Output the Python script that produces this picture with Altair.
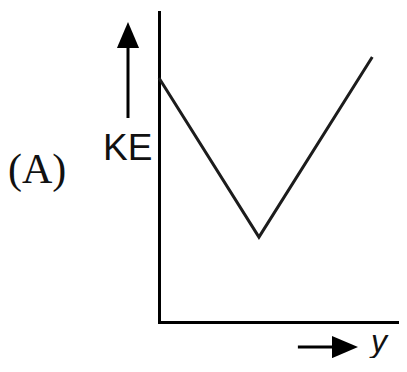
import altair as alt
import pandas as pd

# V-shaped kinetic energy curve (position y, KE), in plot units
pos = [0.0, 4.03, 8.6]
ke = [7.87, 2.74, 8.55]

# arrow shafts
arrow_x = [-1.25, 5.60]
arrow_x2 = [-1.25, 7.30]
arrow_y = [6.58, -0.81]
arrow_y2 = [8.94, -0.81]

# arrow heads
head_x = [-1.25, 7.50]
head_y = [9.26, -0.81]
head_angle = [0, 90]

# labels
serif_text = ["(A)"]
serif_x = [-6.09]
serif_y = [4.48]

sans_text = ["KE"]
sans_x = [-2.26]
sans_y = [5.23]

ital_text = ["y"]
ital_x = [8.55]
ital_y = [-0.97]

X_DOM = [0, 9.677]
Y_DOM = [0, 10]


def xenc(field="x"):
    return alt.X(f"{field}:Q", scale=alt.Scale(domain=X_DOM, nice=False, zero=False), title=None)


def yenc(field="y"):
    return alt.Y(f"{field}:Q", scale=alt.Scale(domain=Y_DOM, nice=False, zero=False), title=None)


curve = alt.Chart(pd.DataFrame({"x": pos, "y": ke})).mark_line(
    color="#1c1c1c", strokeWidth=3, strokeJoin="miter"
).encode(x=xenc(), y=yenc())

shafts = alt.Chart(pd.DataFrame({"x": arrow_x, "x2": arrow_x2, "y": arrow_y, "y2": arrow_y2})).mark_rule(
    color="black", strokeWidth=3
).encode(x=xenc(), x2="x2:Q", y=yenc(), y2="y2:Q")

heads = alt.Chart(pd.DataFrame({"x": head_x, "y": head_y, "a": head_angle})).mark_point(
    shape="M0,-1L0.85,1L-0.85,1Z", filled=True, color="black", opacity=1, size=676
).encode(x=xenc(), y=yenc(), angle=alt.Angle("a:Q", scale=None))

t_serif = alt.Chart(pd.DataFrame({"x": serif_x, "y": serif_y, "t": serif_text})).mark_text(
    font="Liberation Serif", fontSize=42, align="left", baseline="alphabetic", color="#111"
).encode(x=xenc(), y=yenc(), text="t:N")

t_sans = alt.Chart(pd.DataFrame({"x": sans_x, "y": sans_y, "t": sans_text})).mark_text(
    font="Liberation Sans", fontSize=37, align="left", baseline="alphabetic", color="#111"
).encode(x=xenc(), y=yenc(), text="t:N")

t_ital = alt.Chart(pd.DataFrame({"x": ital_x, "y": ital_y, "t": ital_text})).mark_text(
    font="Liberation Sans", fontSize=32, fontStyle="italic", align="left", baseline="alphabetic", color="#111"
).encode(x=xenc(), y=yenc(), text="t:N")

chart = alt.layer(curve, shafts, heads, t_serif, t_sans, t_ital).properties(
    width=240,
    height=310,
    autosize=alt.AutoSizeParams(type="none"),
    padding={"left": 151, "top": 4, "right": 0, "bottom": 36},
    background="white",
).configure_view(stroke=None).configure_axis(
    domain=True,
    domainColor="black",
    domainWidth=3,
    domainCap="square",
    ticks=False,
    labels=False,
    grid=False,
)

chart.save("out.html", embed_options={"renderer": "svg", "actions": False})
